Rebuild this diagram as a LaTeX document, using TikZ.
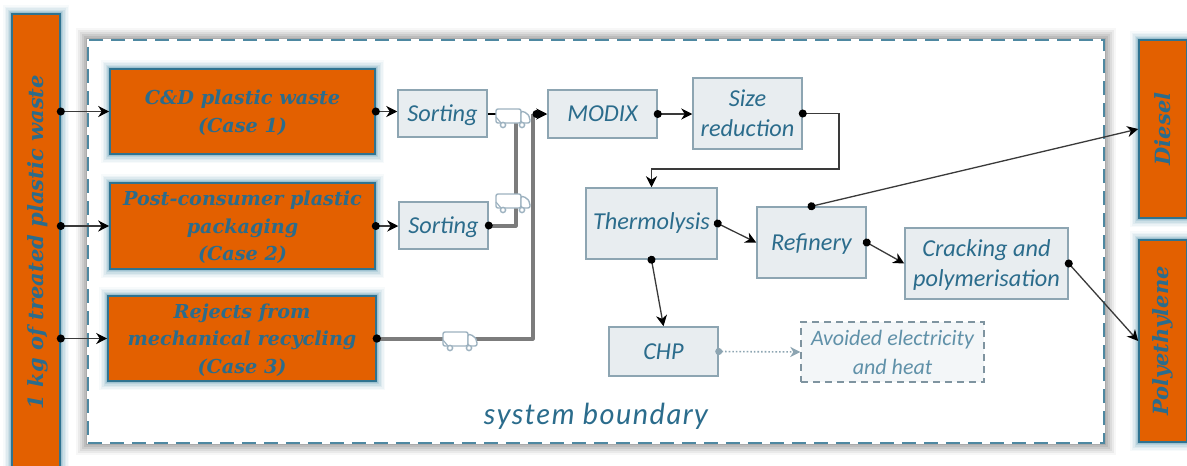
\documentclass[tikz,border=0pt]{standalone}
\usepackage{graphicx}
\usepackage{fontspec}
\setmainfont{Carlito}
\newfontfamily\slabfont{DejaVu Serif}
\newfontfamily\bndfont[LetterSpace=5]{Lato}
\usetikzlibrary{arrows.meta}
\definecolor{orangefill}{HTML}{E36000}
\definecolor{tealtext}{HTML}{2B6C8C}
\definecolor{tealedge}{HTML}{2F7390}
\definecolor{glowblue}{HTML}{3F87A6}
\definecolor{procfill}{HTML}{E8EDF0}
\definecolor{procedge}{HTML}{8DA5B2}
\definecolor{lineink}{HTML}{3A3A3A}
\definecolor{thickline}{HTML}{7C7C7C}
\definecolor{truckline}{HTML}{9DB2C0}
\newcommand\lowered[1]{\raisebox{-1.6pt}[\height][\depth]{\begin{tabular}{@{}c@{}}#1\end{tabular}}}
\tikzset{
  x=1pt,y=-1pt,
  orangebox/.style={draw=tealedge,line width=1.6pt,fill=orangefill,inner sep=0pt,align=center,
    text=tealtext,font=\slabfont\bfseries\itshape\fontsize{19.2}{27.5}\selectfont,
    preaction={draw=glowblue,draw opacity=.04,line width=18pt,rounded corners=3pt},
    preaction={draw=glowblue,draw opacity=.06,line width=15pt,rounded corners=3pt},
    preaction={draw=glowblue,draw opacity=.08,line width=12pt,rounded corners=3pt},
    preaction={draw=glowblue,draw opacity=.11,line width=9pt,rounded corners=2pt},
    preaction={draw=glowblue,draw opacity=.15,line width=6pt,rounded corners=1pt},
    preaction={draw=glowblue,draw opacity=.20,line width=3.5pt}},
  barbox/.style={orangebox,font=\slabfont\bfseries\itshape\fontsize{21}{24}\selectfont},
  procbox/.style={draw=procedge,line width=1.5pt,fill=procfill,inner sep=0pt,align=center,
    text=tealtext,font=\itshape\fontsize{24.3}{30}\selectfont},
  avoidbox/.style={draw=procedge!90!black,line width=1.4pt,dash pattern=on 7pt off 5pt,fill=procfill!50,
    inner sep=0pt,align=center,text=tealtext!75,font=\itshape\fontsize{22}{29}\selectfont},
  boundbox/.style={draw=tealedge!85,line width=2.4pt,dash pattern=on 14pt off 8pt,fill=white,inner sep=0pt,
    preaction={draw=black,solid,draw opacity=.03,line width=24pt,rounded corners=6pt},
    preaction={draw=black,solid,draw opacity=.05,line width=20pt,rounded corners=5pt},
    preaction={draw=black,solid,draw opacity=.06,line width=16pt,rounded corners=4pt},
    preaction={draw=black,solid,draw opacity=.07,line width=12pt,rounded corners=3pt},
    preaction={draw=black,solid,draw opacity=.08,line width=8pt,rounded corners=2pt},
    preaction={draw=black,solid,draw opacity=.09,line width=4pt},
    preaction={draw=white,solid,line width=2.4pt}},
  boundtext/.style={text=tealtext,inner sep=0pt,font=\bndfont\itshape\fontsize{29}{32}\selectfont},
  flow/.style={draw=lineink,line width=1.3pt,shorten <=-4pt,{Circle[length=8pt,width=8pt,black]}-{Stealth[length=11pt,width=11pt,inset=3.5pt,black]}},
  massflow/.style={draw=thickline,line width=4pt,line join=round},
  dotflow/.style={draw=procedge,line width=1.6pt,dotted,shorten <=-3.5pt,{Circle[length=7pt,width=7pt,procedge]}-{Stealth[length=10pt,width=10pt,inset=3pt,procedge]}},
  pics/truck/.style={code={
    \draw[truckline,line width=1.4pt,fill=white,rounded corners=2pt] (-17,-8) rectangle (8,6);
    \draw[truckline,line width=1.4pt,fill=white,rounded corners=2pt] (8,-6) -- (14,-4) -- (17,1) -- (17,6) -- (8,6) -- cycle;
    \draw[truckline,line width=1.4pt,fill=white] (-10,8) circle (2.6);
    \draw[truckline,line width=1.4pt,fill=white] (9,8) circle (2.6);
    \draw[truckline,line width=1.2pt] (-17,0) -- (-12,6);
  }}
}
\begin{document}
\begin{tikzpicture}
\useasboundingbox[fill=white] (0,0) rectangle (1187,466);

% system boundary
\node[boundbox,minimum width=1016pt,minimum height=403pt] (bound) at (596,241.5) {};
\node[boundtext] (boundlabel) at (596,416) {system boundary};

% inputs and outputs
\node[barbox,minimum width=48pt,minimum height=456pt] (input) at (36,242) {\hspace{4pt}\rotatebox{90}{1 kg of treated plastic waste}};
\node[barbox,minimum width=48pt,minimum height=178pt] (diesel) at (1163,129) {\rotatebox{90}{Diesel}};
\node[barbox,minimum width=48pt,minimum height=202pt] (poly) at (1163,341) {\rotatebox{90}{Polyethylene}};

% feedstocks
\node[orangebox,minimum width=265pt,minimum height=85pt] (cd) at (242.5,111.5) {\lowered{C\&D plastic waste\\(Case 1)}};
\node[orangebox,minimum width=265pt,minimum height=86pt] (post) at (242.5,226) {\lowered{Post-consumer plastic\\packaging\\(Case 2)}};
\node[orangebox,minimum width=268pt,minimum height=85pt] (rej) at (242,338.5) {\lowered{Rejects from\\mechanical recycling\\(Case 3)}};

% processes
\node[procbox,minimum width=89pt,minimum height=47pt] (sort1) at (442.5,113.5) {\lowered{Sorting}};
\node[procbox,minimum width=89pt,minimum height=47pt] (sort2) at (443.5,225.5) {\lowered{Sorting}};
\node[procbox,minimum width=109pt,minimum height=48pt] (modix) at (602.5,114) {MODIX};
\node[procbox,minimum width=109pt,minimum height=71pt] (size) at (747.5,113.5) {Size\\reduction};
\node[procbox,minimum width=131pt,minimum height=71pt] (thermo) at (651.5,223.5) {Thermolysis};
\node[procbox,minimum width=109pt,minimum height=71pt] (refin) at (811.5,242.5) {\lowered{Refinery}};
\node[procbox,minimum width=163pt,minimum height=71pt] (crack) at (986.5,263.5) {\lowered{Cracking and\\polymerisation}};
\node[procbox,minimum width=109pt,minimum height=49pt] (chp) at (663.5,351.5) {CHP};
\node[avoidbox,minimum width=183pt,minimum height=60pt] (avoid) at (892.5,352) {Avoided electricity\\and heat};

% junctions
\coordinate (j1) at (515.5,120);
\coordinate (j2) at (532.5,114);
\coordinate (j3) at (839,113.5);
\coordinate (j4) at (839,169);

% transport
\draw[massflow] (sort2.east) -- (sort2.east -| j1) -- (j1);
\draw[massflow] (rej.east) -- (rej.east -| j2) -- (j2);
\draw[black,line width=2pt] (sort1.east) -- ++(12,0);
\fill[black] (rej.east) circle (4.2);
\fill[black] (sort2.east) circle (4);
\pic at (513,117) {truck};
\pic at (513,202) {truck};
\pic at (460,340) {truck};
\draw[flow,shorten <=0pt] (j2) -- (modix.west);

% flows
\draw[flow] (input.east |- cd.west) -- (cd.west);
\draw[flow] (input.east |- post.west) -- (post.west);
\draw[flow] (input.east |- rej.west) -- (rej.west);
\draw[flow] (cd.east) -- (cd.east -| sort1.west);
\draw[flow] (post.east) -- (post.east -| sort2.west);
\draw[flow] (modix.east) -- (modix.east -| size.west);
\draw[flow] (size.east) -- (j3) -- (j4) -- (j4 -| thermo.north) -- (thermo.north);
\draw[flow] (thermo.east) -- (refin.west);
\draw[flow] (refin.east) -- (crack.west);
\draw[flow] (refin.north) -- (diesel.west);
\draw[flow] (crack.east) -- (poly.west);
\draw[flow] (thermo.south) -- (chp.north);
\draw[dotflow] (chp.east) -- (avoid.west);
\end{tikzpicture}
\end{document}
